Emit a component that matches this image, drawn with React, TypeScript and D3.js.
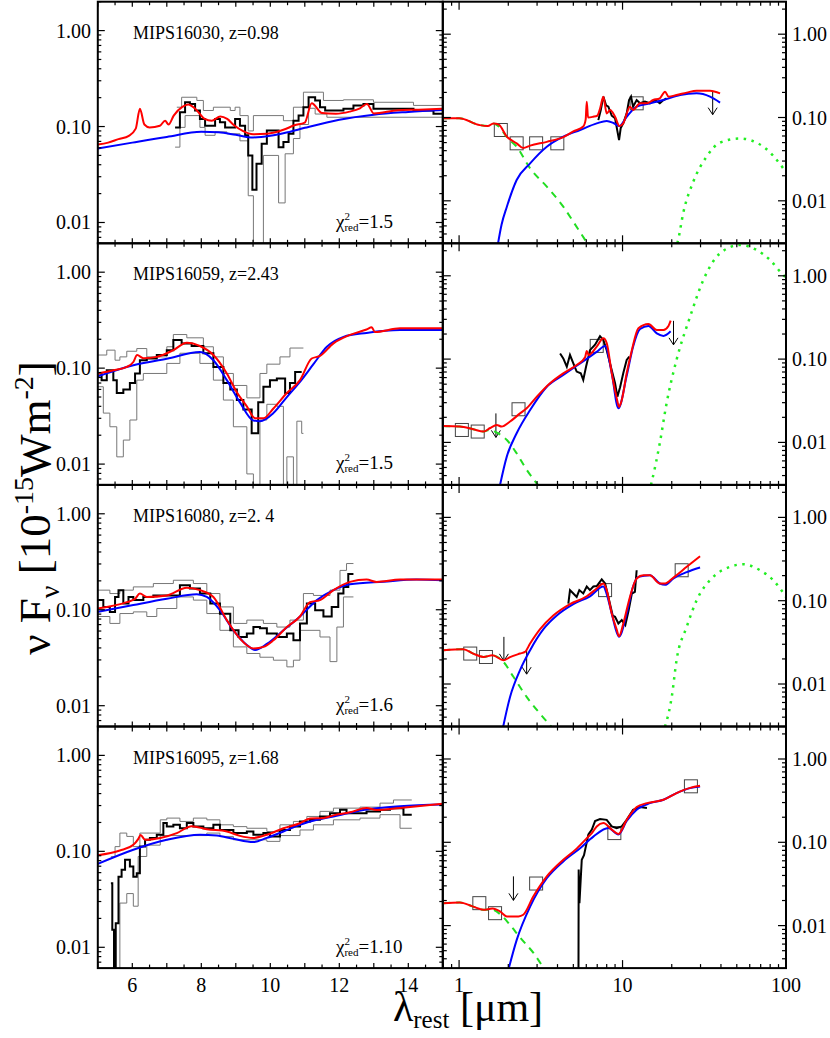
import React from 'react';
import * as d3 from 'd3';

type P = [number, number];

const WIDTH = 830;
const HEIGHT = 1038;
const TOP0 = 1.7;
const ROW_H = 241.6;
const LX0 = 97.8;
const LX1 = 442.8;
const RX1 = 786;
const FONT = "'Liberation Serif', 'DejaVu Serif', serif";

// labels
const names = ['MIPS16030, z=0.98', 'MIPS16059, z=2.43', 'MIPS16080, z=2. 4', 'MIPS16095, z=1.68'];
const chiVals = ['1.5', '1.5', '1.6', '1.10'];
const leftTickLabels = [6, 8, 10, 12, 14];
const rightTickLabels = [1, 10, 100];
const yTickVals = [0.01, 0.1, 1];
const yTickText = ['0.01', '0.10', '1.00'];

// ---- left panels: IRS spectra (step = [lambda start, value]) ----
const spec1: P[] = [[7.24,0.098],[7.38,0.141],[7.53,0.179],[7.67,0.172],[7.82,0.147],[7.96,0.12],[8.11,0.102],[8.4,0.12],[8.54,0.111],[8.69,0.098],[8.98,0.12],[9.12,0.102],[9.27,0.081],[9.36,0.05],[9.48,0.0219],[9.6,0.041],[9.75,0.066],[9.9,0.091],[10.24,0.061],[10.38,0.069],[10.53,0.084],[10.67,0.115],[10.82,0.13],[10.96,0.159],[11.11,0.202],[11.3,0.187],[11.44,0.159],[11.59,0.147],[12.12,0.153],[12.41,0.166],[12.7,0.172],[12.99,0.153],[14.15,0.147],[14.73,0.136],[15,0.136]];
const hi1: P[] = [[7.29,0.159],[7.43,0.202],[7.87,0.187],[8.06,0.147],[8.35,0.159],[8.84,0.147],[8.98,0.159],[9.12,0.13],[9.36,0.09],[9.51,0.13],[10.38,0.115],[10.67,0.159],[10.96,0.228],[11.54,0.187],[12.12,0.19],[12.99,0.179],[14.15,0.166],[15,0.166]];
const lo1: P[] = [[7.24,0.061],[7.38,0.098],[7.53,0.13],[7.96,0.098],[8.11,0.081],[8.4,0.088],[8.74,0.084],[9.12,0.071],[9.36,0.019],[9.51,0.004],[9.8,0.05],[10.24,0.016],[10.43,0.052],[10.67,0.075],[10.86,0.105],[11.11,0.155],[11.3,0.135],[11.64,0.125],[15,0.125]];
const red1L: P[] = [[5,0.065],[5.3,0.068],[5.6,0.074],[5.9,0.08],[6.1,0.095],[6.22,0.153],[6.35,0.105],[6.5,0.098],[6.8,0.102],[6.95,0.115],[7.05,0.105],[7.2,0.13],[7.45,0.16],[7.62,0.17],[7.85,0.15],[8.1,0.12],[8.3,0.115],[8.55,0.127],[8.75,0.12],[8.95,0.103],[9.2,0.09],[9.5,0.083],[9.9,0.084],[10.4,0.093],[10.7,0.103],[11,0.11],[11.2,0.175],[11.5,0.138],[11.9,0.136],[12.3,0.143],[12.6,0.155],[12.8,0.172],[13,0.137],[13.7,0.148],[14.3,0.15],[15,0.153]];
const blue1L: P[] = [[5,0.059],[6,0.068],[7,0.078],[8,0.088],[8.5,0.087],[9,0.082],[9.5,0.077],[10,0.08],[10.5,0.087],[11,0.097],[12,0.118],[13,0.133],[14,0.142],[15,0.149]];

const spec2: P[] = [[5,0.088],[5.11,0.075],[5.26,0.095],[5.45,0.075],[5.55,0.055],[5.74,0.06],[5.93,0.07],[6.08,0.088],[6.22,0.121],[6.42,0.126],[6.71,0.137],[7,0.154],[7.19,0.196],[7.43,0.181],[7.72,0.17],[8.06,0.143],[8.35,0.103],[8.64,0.07],[8.84,0.06],[9.03,0.0465],[9.22,0.037],[9.46,0.021],[9.65,0.044],[9.8,0.064],[9.99,0.075],[10.19,0.078],[10.43,0.055],[10.57,0.07],[10.72,0.091],[10.91,0.091]];
const hi2: P[] = [[5,0.137],[5.26,0.154],[5.5,0.121],[5.64,0.131],[5.84,0.15],[6.13,0.16],[6.42,0.131],[7,0.167],[7.19,0.224],[7.58,0.207],[8.06,0.167],[8.35,0.131],[8.64,0.088],[8.93,0.066],[9.32,0.049],[9.7,0.088],[9.9,0.11],[10.28,0.131],[10.57,0.162],[10.96,0.162]];
const lo2: P[] = [[5,0.064],[5.16,0.034],[5.35,0.0245],[5.55,0.0119],[5.74,0.0178],[5.93,0.0288],[6.13,0.075],[6.32,0.088],[7,0.112],[7.38,0.143],[7.96,0.112],[8.35,0.075],[8.64,0.0465],[8.93,0.0245],[9.32,0.0079],[9.51,0.004],[9.7,0.0288],[9.9,0.042],[10.19,0.04],[10.38,0.004],[10.48,0.0119],[10.67,0.004],[10.77,0.028],[10.91,0.0209],[10.96,0.0209]];
const red2L: P[] = [[5,0.088],[5.45,0.095],[5.84,0.103],[6.03,0.116],[6.14,0.137],[6.32,0.127],[6.71,0.131],[7.19,0.154],[7.58,0.184],[7.96,0.17],[8.35,0.137],[8.74,0.088],[9.03,0.056],[9.32,0.04],[9.56,0.03],[9.8,0.03],[10.09,0.038],[10.48,0.055],[10.86,0.075],[11.2,0.126],[11.44,0.134],[11.83,0.181],[12.31,0.222],[12.79,0.253],[12.94,0.266],[13.03,0.238],[13.76,0.26],[15,0.26]];
const blue2L: P[] = [[5,0.082],[6.03,0.107],[7,0.125],[7.96,0.147],[8.35,0.121],[8.74,0.075],[9.12,0.044],[9.51,0.0285],[9.7,0.028],[10.09,0.034],[10.48,0.05],[10.86,0.072],[11.25,0.11],[11.64,0.167],[12.12,0.212],[12.79,0.233],[13.76,0.249],[15,0.249]];

const spec3: P[] = [[5,0.126],[5.16,0.107],[5.35,0.095],[5.5,0.136],[5.6,0.16],[5.74,0.116],[5.89,0.136],[6.03,0.126],[6.32,0.136],[6.61,0.141],[7,0.141],[7.38,0.18],[7.67,0.166],[7.96,0.1475],[8.26,0.116],[8.54,0.091],[8.84,0.061],[9.08,0.052],[9.32,0.0565],[9.51,0.066],[9.7,0.064],[9.9,0.0565],[10.19,0.052],[10.48,0.0565],[10.67,0.048],[10.86,0.072],[11.06,0.116],[11.3,0.099],[11.54,0.085],[11.78,0.107],[11.97,0.1475],[12.12,0.173],[12.26,0.236],[12.41,0.236]];
const hi3: P[] = [[5,0.16],[5.35,0.1475],[5.64,0.16],[6.03,0.173],[6.61,0.1875],[7.19,0.203],[7.77,0.1875],[8.16,0.1475],[8.54,0.107],[8.93,0.072],[9.32,0.078],[9.8,0.072],[10.19,0.066],[10.57,0.078],[10.96,0.1475],[11.25,0.141],[11.73,0.16],[12.02,0.257],[12.21,0.303],[12.41,0.303]];
const lo3: P[] = [[5,0.085],[5.35,0.072],[5.64,0.0913],[6.03,0.095],[6.42,0.085],[6.71,0.103],[7.29,0.136],[7.77,0.126],[8.16,0.0913],[8.54,0.061],[8.93,0.041],[9.32,0.035],[9.7,0.032],[10.09,0.0298],[10.48,0.0254],[10.67,0.0298],[10.86,0.061],[11.15,0.061],[11.44,0.052],[11.73,0.0288],[11.93,0.066],[12.12,0.136],[12.41,0.136]];
const red3L: P[] = [[5,0.103],[5.84,0.12],[6.08,0.13],[6.22,0.1475],[6.42,0.136],[7,0.141],[7.58,0.17],[7.96,0.16],[8.35,0.136],[8.74,0.078],[9.12,0.05],[9.51,0.0395],[9.8,0.041],[10.09,0.048],[10.48,0.066],[10.86,0.085],[11.15,0.12],[11.44,0.126],[11.83,0.16],[12.31,0.195],[12.79,0.206],[13.08,0.195],[13.76,0.206],[15,0.206]];
const blue3L: P[] = [[5,0.095],[6.03,0.112],[7,0.13],[7.87,0.145],[8.16,0.136],[8.54,0.099],[8.93,0.061],[9.32,0.043],[9.56,0.038],[9.9,0.044],[10.38,0.061],[10.86,0.085],[11.35,0.126],[11.83,0.16],[12.31,0.184],[13.28,0.196],[14.24,0.206],[15,0.203]];

const spec4: P[] = [[5.38,0.0465],[5.42,0.0152],[5.47,0.004],[5.52,0.0178],[5.6,0.0545],[5.69,0.0643],[5.79,0.0815],[5.93,0.0694],[6.03,0.0545],[6.13,0.0592],[6.22,0.112],[6.37,0.132],[6.51,0.138],[6.71,0.149],[6.9,0.197],[7,0.181],[7.19,0.189],[7.38,0.174],[7.58,0.197],[7.77,0.181],[8.06,0.174],[8.35,0.189],[8.54,0.167],[8.93,0.155],[9.32,0.161],[9.51,0.149],[9.8,0.155],[9.99,0.143],[10.28,0.167],[10.57,0.181],[10.86,0.205],[11.15,0.213],[11.44,0.231],[11.73,0.25],[12.02,0.271],[12.21,0.25],[12.79,0.26],[13.18,0.271],[13.47,0.282],[13.86,0.241],[14.1,0.241]];
const hi4: P[] = [[5.38,0.088],[5.5,0.112],[5.64,0.155],[5.84,0.143],[6.03,0.112],[6.22,0.155],[6.81,0.213],[7,0.222],[7.38,0.205],[7.77,0.222],[8.16,0.213],[8.54,0.189],[8.93,0.181],[9.32,0.174],[9.9,0.161],[10.28,0.189],[10.67,0.205],[11.06,0.231],[11.44,0.261],[11.83,0.282],[12.6,0.289],[13.18,0.318],[13.57,0.343],[14.1,0.343]];
const lo4: P[] = [[5.38,0.004],[5.64,0.0289],[5.84,0.0363],[6.03,0.0268],[6.17,0.0884],[6.42,0.116],[6.81,0.146],[8.16,0.155],[8.54,0.143],[8.93,0.132],[9.9,0.127],[10.28,0.146],[10.86,0.167],[11.25,0.189],[11.83,0.213],[12.6,0.222],[13.18,0.241],[13.76,0.174],[14.1,0.174]];
const red4L: P[] = [[5,0.091],[5.64,0.102],[6.03,0.117],[6.17,0.134],[6.24,0.148],[6.37,0.132],[6.81,0.138],[7.29,0.155],[7.72,0.183],[8.16,0.17],[8.74,0.161],[9.12,0.145],[9.51,0.138],[9.9,0.149],[10.38,0.174],[10.86,0.196],[11.15,0.22],[11.54,0.223],[11.83,0.237],[12.31,0.255],[12.79,0.283],[13.08,0.27],[13.76,0.283],[15,0.313]];
const blue4L: P[] = [[5,0.074],[6.03,0.104],[7,0.132],[7.96,0.149],[8.45,0.146],[8.93,0.135],[9.51,0.125],[9.9,0.138],[10.38,0.161],[10.86,0.189],[11.35,0.213],[11.83,0.231],[12.31,0.253],[12.79,0.273],[13.76,0.295],[15,0.307]];

// ---- right panels: full SED ----
const red1R: P[] = [[0.8,0.098],[1,0.098],[1.34,0.081],[1.5,0.079],[1.62,0.085],[1.75,0.082],[1.96,0.059],[2.25,0.049],[2.47,0.043],[2.72,0.046],[3.44,0.051],[4.34,0.058],[5,0.068],[5.75,0.078],[5.95,0.095],[6.04,0.155],[6.15,0.1],[6.6,0.102],[7,0.105],[7.3,0.13],[7.63,0.178],[8,0.112],[8.39,0.123],[9,0.102],[9.57,0.079],[10.1,0.085],[11.1,0.135],[11.6,0.123],[12.8,0.148],[14.1,0.148],[15.4,0.162],[16.9,0.17],[18.2,0.204],[19.1,0.178],[21.4,0.186],[24.7,0.199],[28.4,0.21],[34.3,0.21],[39.5,0.195]];
const blue1R: P[] = [[1.7,0.0025],[1.82,0.0052],[1.96,0.0085],[2.25,0.0178],[2.72,0.0282],[3.44,0.0446],[4.34,0.059],[5.5,0.0708],[6.95,0.085],[8,0.091],[8.8,0.086],[9.57,0.079],[10.6,0.102],[12.2,0.135],[14.7,0.148],[17.8,0.162],[22.5,0.186],[28.4,0.195],[34.3,0.178],[39.5,0.151]];
const star1R: P[] = [[0.8,0.098],[1,0.098],[1.34,0.081],[1.5,0.079],[1.62,0.085],[1.75,0.078],[1.96,0.058],[2.25,0.0446],[2.72,0.0245],[3.44,0.0148],[4.34,0.0085],[5,0.0056],[5.9,0.0034],[6.3,0.0028]];
const cold1R: P[] = [[21,0.0025],[21.9,0.0034],[23.5,0.0071],[27.1,0.017],[32.7,0.034],[39.5,0.05],[52.3,0.056],[72.7,0.0446],[96.2,0.0245],[100,0.022]];
const spec1R: P[] = [[7.11,0.093],[7.36,0.123],[7.63,0.178],[7.93,0.14],[8.19,0.135],[8.59,0.105],[9,0.098],[9.3,0.0687],[9.52,0.0535],[9.75,0.075],[10.1,0.085],[10.6,0.112],[10.96,0.162],[11.27,0.178],[11.6,0.135],[12.2,0.162],[12.8,0.148],[13.7,0.155],[14.7,0.148],[15.8,0.162],[16.9,0.148],[17.8,0.162],[18.6,0.17]];
const phot1R: P[] = [[1.8,0.0708],[2.25,0.049],[2.96,0.049],[3.99,0.049],[12.2,0.148]];
const lim1R: P[] = [[35.6,0.21]];

const red2R: P[] = [[0.8,0.0157],[1.01,0.0155],[1.22,0.0144],[1.41,0.0135],[1.55,0.0149],[1.7,0.0162],[1.82,0.0155],[2.05,0.0178],[2.36,0.0223],[2.59,0.0257],[2.99,0.0354],[3.6,0.0513],[4.34,0.0676],[5.24,0.085],[5.9,0.105],[6.04,0.125],[6.2,0.112],[6.95,0.141],[7.63,0.178],[8,0.156],[8.59,0.0676],[9.21,0.034],[9.52,0.0268],[9.89,0.0323],[10.6,0.0676],[11.4,0.128],[12.5,0.234],[14.4,0.264],[16.2,0.224],[17.8,0.224],[19.1,0.25],[19.7,0.289]];
const blue2R: P[] = [[1.74,0.0025],[1.96,0.0068],[2.25,0.0129],[2.72,0.0245],[3.44,0.0466],[4.34,0.0645],[5.5,0.089],[6.95,0.122],[7.82,0.144],[8.59,0.0676],[9.43,0.0257],[10.6,0.063],[11.6,0.141],[12.8,0.23],[14.4,0.25],[16.2,0.204],[17.8,0.19],[19.7,0.216]];
const star2R: P[] = [[0.8,0.0157],[1.01,0.0155],[1.22,0.0144],[1.41,0.0135],[1.55,0.0142],[1.7,0.0131],[1.96,0.0107],[2.25,0.0074],[2.59,0.0047],[2.92,0.0034],[3.2,0.0027]];
const cold2R: P[] = [[14.5,0.0025],[15.1,0.0034],[16.9,0.0098],[18.6,0.0295],[21.4,0.098],[25.9,0.323],[31.2,0.89],[39.5,1.86],[52.3,2.34],[66.2,2.04],[79.8,1.55],[96.2,1.02],[100,0.95]];
const spec2R: P[] = [[4.15,0.117],[4.34,0.102],[4.56,0.081],[4.77,0.112],[5,0.089],[5.24,0.0708],[5.55,0.0676],[5.75,0.0562],[5.98,0.081],[6.32,0.128],[6.79,0.149],[7.28,0.188],[7.63,0.17],[8,0.128],[8.59,0.0737],[9,0.0513],[9.3,0.0354],[9.66,0.046],[10.1,0.0676],[10.6,0.0977],[11,0.107]];
const phot2R: P[] = [[1.04,0.0141],[1.3,0.0135],[2.31,0.025],[6.95,0.144]];
const lim2R: P[] = [[1.68,0.0223],[20.5,0.288]];

const red3R: P[] = [[0.8,0.0255],[1.06,0.0262],[1.22,0.0232],[1.41,0.0211],[1.6,0.0221],[1.87,0.0193],[2.05,0.021],[2.36,0.0232],[2.53,0.0243],[2.72,0.0306],[3.13,0.0455],[3.77,0.0664],[4.77,0.091],[6.04,0.113],[6.95,0.14],[7.63,0.161],[8,0.134],[8.59,0.07],[9.21,0.045],[9.52,0.0375],[10.1,0.053],[11.1,0.111],[12.2,0.185],[13.4,0.202],[14.7,0.202],[16.9,0.161],[18.2,0.161],[20.5,0.19],[24.7,0.255],[29.8,0.342]];
const blue3R: P[] = [[1.82,0.0025],[2.05,0.007],[2.36,0.0147],[2.72,0.0255],[3.28,0.0455],[3.96,0.0664],[5,0.091],[6.32,0.113],[7.63,0.148],[8,0.12],[8.59,0.07],[9.52,0.037],[10.6,0.07],[11.6,0.148],[12.5,0.193],[14.7,0.202],[16.9,0.161],[18.2,0.155],[20.5,0.185],[24.7,0.22],[29.8,0.25]];
const star3R: P[] = [[0.8,0.0255],[1.06,0.0262],[1.22,0.0232],[1.41,0.0211],[1.6,0.0221],[1.87,0.0184],[2.15,0.0122],[2.59,0.007],[3.13,0.0044],[3.77,0.0029]];
const cold3R: P[] = [[17.5,0.0025],[18.2,0.0031],[20,0.007],[21.4,0.0193],[24.7,0.0486],[28.4,0.101],[35.9,0.193],[45.4,0.255],[54.8,0.274],[69.3,0.232],[83.6,0.176],[100,0.111]];
const spec3R: P[] = [[4.66,0.0925],[4.77,0.134],[5,0.122],[5.24,0.111],[5.44,0.134],[5.75,0.122],[6.04,0.148],[6.32,0.134],[6.63,0.148],[6.95,0.15],[7.46,0.18],[7.82,0.161],[8.19,0.111],[8.71,0.066],[9,0.064],[9.43,0.0532],[9.89,0.0585],[10.4,0.051],[10.9,0.0766],[11.4,0.122],[11.9,0.128],[12.2,0.232]];
const phot3R: P[] = [[1.17,0.0232],[1.46,0.0211],[7.82,0.134],[23,0.232]];
const lim3R: P[] = [[1.88,0.0368],[2.59,0.0255]];

const red4R: P[] = [[0.8,0.0186],[1.01,0.019],[1.22,0.0169],[1.41,0.0155],[1.6,0.016],[1.78,0.0148],[1.96,0.0129],[2.31,0.0129],[2.47,0.0135],[2.85,0.0225],[3.44,0.039],[4.34,0.0617],[5.24,0.084],[6.18,0.117],[6.49,0.129],[6.95,0.155],[7.63,0.17],[8.59,0.142],[9.43,0.126],[10.6,0.186],[12.2,0.265],[14.1,0.295],[17.8,0.324],[21.4,0.39],[25.9,0.45],[29.8,0.476]];
const blue4R: P[] = [[1.96,0.0025],[2.25,0.0067],[2.72,0.0169],[3.44,0.037],[4.34,0.059],[5.5,0.085],[6.63,0.117],[8.19,0.148],[9.43,0.124],[10.6,0.18],[12.2,0.246],[14.7,0.295],[17.8,0.324],[21.4,0.39],[25.9,0.447],[29.8,0.468]];
const star4R: P[] = [[0.8,0.0186],[1.01,0.019],[1.22,0.0169],[1.41,0.0155],[1.6,0.0155],[1.8,0.0135],[2.05,0.0102],[2.36,0.0072],[2.85,0.0047],[3.36,0.0029]];
const cold4R: P[] = [];
const spec4R: P[] = [[5.37,0.001],[5.39,0.047],[5.45,0.0186],[5.63,0.0617],[5.81,0.07],[6.04,0.1],[6.18,0.124],[6.49,0.142],[6.79,0.18],[7.28,0.19],[8,0.186],[8.59,0.155],[9.21,0.148],[9.89,0.155],[10.6,0.186],[11.6,0.246],[12.8,0.265],[14.1,0.258]];
const phot4R: P[] = [[1.33,0.0186],[1.66,0.0141],[2.96,0.032],[8.91,0.129],[26.2,0.47]];
const lim4R: P[] = [[2.15,0.039]];

const leftData = [
  { spec: spec1, hi: hi1, lo: lo1, red: red1L, blue: blue1L },
  { spec: spec2, hi: hi2, lo: lo2, red: red2L, blue: blue2L },
  { spec: spec3, hi: hi3, lo: lo3, red: red3L, blue: blue3L },
  { spec: spec4, hi: hi4, lo: lo4, red: red4L, blue: blue4L },
];
const rightData = [
  { red: red1R, blue: blue1R, star: star1R, cold: cold1R, spec: spec1R, phot: phot1R, lim: lim1R },
  { red: red2R, blue: blue2R, star: star2R, cold: cold2R, spec: spec2R, phot: phot2R, lim: lim2R },
  { red: red3R, blue: blue3R, star: star3R, cold: cold3R, spec: spec3R, phot: phot3R, lim: lim3R },
  { red: red4R, blue: blue4R, star: star4R, cold: cold4R, spec: spec4R, phot: phot4R, lim: lim4R },
];

const logTicks = (lo: number, hi: number) => {
  const out: { v: number; major: boolean }[] = [];
  for (let e = -4; e <= 2; e++) {
    for (let k = 1; k <= 9; k++) {
      const v = k * Math.pow(10, e);
      if (v >= lo * 0.999 && v <= hi * 1.001) out.push({ v, major: k === 1 });
    }
  }
  return out;
};

const LeftPanel = ({ row, d }: { row: number; d: typeof leftData[0] }) => {
  const top = TOP0 + row * ROW_H;
  const bot = top + ROW_H;
  const x = d3.scaleLinear().domain([5, 15]).range([LX0, LX1]);
  const y = d3.scaleLog().domain([0.00607, 2.0]).range([bot, top]);
  const smooth = d3.line<P>().x(p => x(p[0])).y(p => y(p[1])).curve(d3.curveMonotoneX);
  const step = d3.line<P>().x(p => x(p[0])).y(p => y(p[1])).curve(d3.curveStepAfter);
  const id = `clipL${row}`;
  const yt = logTicks(0.00607, 2.0);
  const xt = d3.range(10, 31).map(i => i / 2);
  return (
    <g>
      <clipPath id={id}><rect x={LX0} y={top} width={LX1 - LX0} height={ROW_H} /></clipPath>
      <g clipPath={`url(#${id})`} fill="none">
        <path d={step(d.hi) || ''} stroke="#777" strokeWidth={1} />
        <path d={step(d.lo) || ''} stroke="#777" strokeWidth={1} />
        <path d={step(d.spec) || ''} stroke="#000" strokeWidth={2} />
        <path d={smooth(d.blue) || ''} stroke="#0000ff" strokeWidth={2} />
        <path d={smooth(d.red) || ''} stroke="#ff0000" strokeWidth={2} />
      </g>
      {yt.map((t, i) => (
        <g key={i} stroke="#000" strokeWidth={1.2}>
          <line x1={LX0} x2={LX0 + (t.major ? 7 : 3.5)} y1={y(t.v)} y2={y(t.v)} />
          <line x1={LX1} x2={LX1 - (t.major ? 7 : 3.5)} y1={y(t.v)} y2={y(t.v)} />
        </g>
      ))}
      {xt.map((t, i) => {
        const len = Number.isInteger(t) ? 5 : 3.5;
        return (
          <g key={i} stroke="#000" strokeWidth={1.2}>
            <line x1={x(t)} x2={x(t)} y1={bot} y2={bot - len} />
            <line x1={x(t)} x2={x(t)} y1={top} y2={top + len} />
          </g>
        );
      })}
      {yTickVals.map((v, i) => (
        <text key={i} x={91} y={y(v) + 7} textAnchor="end" fontSize={20}>{yTickText[i]}</text>
      ))}
      <text x={133} y={top + 37} fontSize={18}>{names[row]}</text>
      <text x={336} y={top + 226} fontSize={19}>
        χ<tspan fontSize={11} dy={-8}>2</tspan>
        <tspan fontSize={11} dx={-5.5} dy={11}>red</tspan>
        <tspan dy={-3}>={chiVals[row]}</tspan>
      </text>
      {row === 3 && leftTickLabels.map((t, i) => (
        <text key={i} x={x(t)} y={992} textAnchor="middle" fontSize={20}>{t}</text>
      ))}
      <rect x={LX0} y={top} width={LX1 - LX0} height={ROW_H} fill="none" stroke="#000" strokeWidth={2} />
    </g>
  );
};

const RightPanel = ({ row, d }: { row: number; d: typeof rightData[0] }) => {
  const top = TOP0 + row * ROW_H;
  const bot = top + ROW_H;
  const x = d3.scaleLog().domain([0.795, 100]).range([LX1, RX1]);
  const y = d3.scaleLog().domain([0.00309, 2.455]).range([bot, top]);
  const smooth = d3.line<P>().x(p => x(p[0])).y(p => y(p[1])).curve(d3.curveMonotoneX);
  const straight = d3.line<P>().x(p => x(p[0])).y(p => y(p[1]));
  const id = `clipR${row}`;
  const yt = logTicks(0.00309, 2.455);
  const xt = logTicks(0.795, 100);
  return (
    <g>
      <clipPath id={id}><rect x={LX1} y={top - 2} width={RX1 - LX1} height={ROW_H + 2} /></clipPath>
      <g clipPath={`url(#${id})`} fill="none">
        {d.phot.map((p, i) => (
          <rect key={i} x={x(p[0]) - 6.5} y={y(p[1]) - 6.5} width={13} height={13} stroke="#444" strokeWidth={1} />
        ))}
        {d.lim.map((p, i) => {
          const px = x(p[0]);
          const py = y(p[1]);
          return (
            <g key={i} stroke="#000" strokeWidth={1}>
              <line x1={px} x2={px} y1={py} y2={py + 24} />
              <path d={`M${px - 4.5},${py + 17} L${px},${py + 24} L${px + 4.5},${py + 17}`} />
            </g>
          );
        })}
        <path d={straight(d.spec) || ''} stroke="#000" strokeWidth={2} />
        <path d={smooth(d.star) || ''} stroke="#22dd22" strokeWidth={2} strokeDasharray="7,6" />
        <path d={smooth(d.cold) || ''} stroke="#22ee22" strokeWidth={2.5} strokeDasharray="2.5,5.5" />
        <path d={smooth(d.blue) || ''} stroke="#0000ff" strokeWidth={2} />
        <path d={smooth(d.red) || ''} stroke="#ff0000" strokeWidth={2} />
      </g>
      {yt.map((t, i) => (
        <g key={i} stroke="#000" strokeWidth={1.2}>
          <line x1={LX1} x2={LX1 + (t.major ? 8 : 4)} y1={y(t.v)} y2={y(t.v)} />
          <line x1={RX1} x2={RX1 - (t.major ? 8 : 4)} y1={y(t.v)} y2={y(t.v)} />
        </g>
      ))}
      {xt.map((t, i) => (
        <g key={i} stroke="#000" strokeWidth={1.2}>
          <line x1={x(t.v)} x2={x(t.v)} y1={bot} y2={bot - (t.major ? 8 : 4)} />
          <line x1={x(t.v)} x2={x(t.v)} y1={top} y2={top + (t.major ? 8 : 4)} />
        </g>
      ))}
      {yTickVals.map((v, i) => (
        <text key={i} x={792} y={y(v) + 7} fontSize={20}>{yTickText[i]}</text>
      ))}
      {row === 3 && rightTickLabels.map((t, i) => (
        <text key={i} x={x(t)} y={992} textAnchor="middle" fontSize={20}>{t}</text>
      ))}
      <rect x={LX1} y={top} width={RX1 - LX1} height={ROW_H} fill="none" stroke="#000" strokeWidth={2} />
    </g>
  );
};

const App = () => (
  <svg width={WIDTH} height={HEIGHT} style={{ position: 'absolute', left: 0, top: 0, background: '#fff' }}
    fontFamily={FONT}>
    <rect width={WIDTH} height={HEIGHT} fill="#fff" />
    {leftData.map((d, i) => <LeftPanel key={i} row={i} d={d} />)}
    {rightData.map((d, i) => <RightPanel key={i} row={i} d={d} />)}
    <text transform="translate(50,508) rotate(-90)" textAnchor="middle" fontSize={45}>
      {'ν F'}<tspan fontSize={28} dy={9}>ν</tspan>
      <tspan dy={-9}>{' [10'}</tspan>
      <tspan fontSize={28} dy={-17}>-15</tspan>
      <tspan dy={17}>Wm</tspan>
      <tspan fontSize={28} dy={-17}>-2</tspan>
      <tspan dy={17}>]</tspan>
    </text>
    <text x={468} y={1021} textAnchor="middle" fontSize={42}>
      λ<tspan fontSize={25} dy={7}>rest</tspan>
      <tspan dy={-7}>{' [μm]'}</tspan>
    </text>
  </svg>
);

export default App;
